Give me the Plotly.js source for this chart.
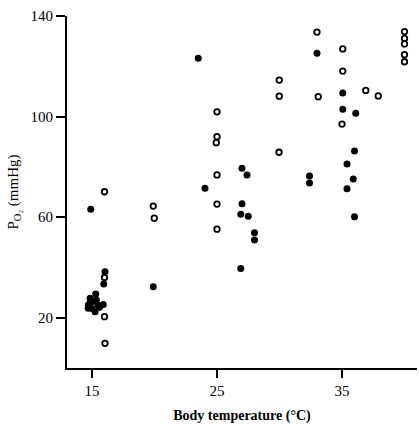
<!DOCTYPE html>
<html>
<head>
<meta charset="utf-8">
<script src="https://cdn.plot.ly/plotly-3.0.1.min.js"></script>
<style>
  html, body { margin: 0; padding: 0; background: #fff; }
  #chart { width: 419px; height: 425px; }
</style>
</head>
<body>
<div id="chart"></div>
<script>
// Filled circles: body temperature (°C) and PO2 (mmHg)
const filledTemp = [14.9, 15.3, 14.85, 14.7, 15.0, 15.25, 15.5, 15.9, 15.1, 14.85, 15.35, 14.7, 15.6,
  16.04, 15.94, 19.9, 23.5, 24.04, 27.0, 27.4, 27.0, 26.9, 27.5, 28.0, 28.0, 26.9,
  33.0, 35.06, 35.06, 36.1, 36.0, 35.4, 32.4, 32.4, 35.9, 35.4, 36.0];
const filledPO2 = [63.1, 29.4, 27.7, 25.0, 23.7, 22.4, 25.0, 25.3, 26.4, 26.2, 27.0, 23.8, 24.2,
  38.3, 33.4, 32.3, 123.2, 71.5, 79.4, 76.8, 65.3, 61.2, 60.4, 53.8, 50.9, 39.6,
  125.2, 109.4, 102.9, 101.3, 86.3, 81.1, 76.4, 73.6, 75.2, 71.3, 60.2];

// Open circles
const openTemp = [16.0, 16.0, 16.0, 16.04, 19.9, 19.98, 25.0, 25.0, 24.94, 25.0, 25.0, 25.0,
  29.98, 29.98, 29.96, 33.0, 33.1, 35.06, 35.06, 35.0, 36.9, 37.9,
  40.0, 40.0, 40.0, 40.0, 40.0];
const openPO2 = [70.1, 36.0, 20.4, 9.8, 64.4, 59.6, 101.9, 92.0, 89.6, 76.8, 65.2, 55.2,
  114.5, 108.1, 85.8, 133.6, 107.9, 126.9, 118.1, 97.0, 110.4, 108.2,
  133.8, 131.1, 128.9, 124.6, 121.8];

// Axis ticks
const xTicks = [15, 25, 35];
const yTicks = [20, 60, 100, 140];

const serif = '"Liberation Serif", "DejaVu Serif", "Times New Roman", serif';

const traces = [
  {
    x: filledTemp, y: filledPO2, type: 'scatter', mode: 'markers',
    marker: { symbol: 'circle', size: 7, color: '#000', line: { width: 0 } },
    hoverinfo: 'x+y'
  },
  {
    x: openTemp, y: openPO2, type: 'scatter', mode: 'markers',
    marker: { symbol: 'circle', size: 5.5, color: '#fff', line: { width: 1.8, color: '#000' } },
    hoverinfo: 'x+y'
  }
];

const layout = {
  width: 419, height: 425,
  margin: { l: 67, r: 2, t: 16, b: 57 },
  paper_bgcolor: '#fff', plot_bgcolor: '#fff',
  showlegend: false,
  font: { family: serif, color: '#000', size: 14 },
  xaxis: {
    range: [13, 41],
    tickvals: xTicks, ticktext: xTicks.map(String),
    ticks: 'outside', ticklen: 8, tickwidth: 2, tickcolor: '#000',
    showline: true, linewidth: 2, linecolor: '#000',
    showgrid: false, zeroline: false,
    tickfont: { family: serif, size: 15, color: '#000' },
    title: { text: '<b>Body temperature (°C)</b>', font: { family: serif, size: 14, color: '#000' }, standoff: 12 }
  },
  yaxis: {
    range: [0, 140],
    tickvals: yTicks, ticktext: yTicks.map(String),
    ticks: 'outside', ticklen: 9, tickwidth: 2, tickcolor: '#000',
    showline: true, linewidth: 2, linecolor: '#000',
    showgrid: false, zeroline: false,
    tickfont: { family: serif, size: 15, color: '#000' },
    title: { text: 'P<sub>O₂</sub> (mmHg)', font: { family: serif, size: 15, color: '#000' }, standoff: 8 }
  }
};

Plotly.newPlot('chart', traces, layout, { displayModeBar: false, staticPlot: true });
</script>
</body>
</html>
